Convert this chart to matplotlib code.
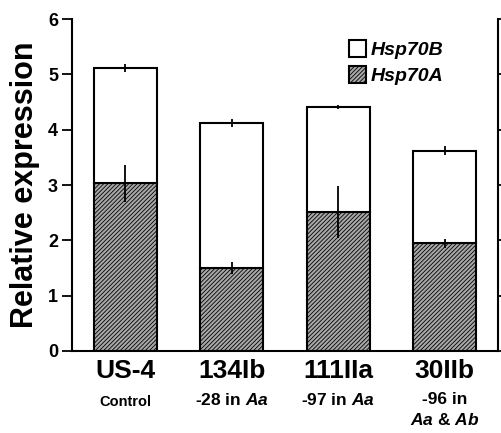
import matplotlib
matplotlib.use("Agg")
import matplotlib.pyplot as plt
import numpy as np

plt.rcParams['font.family'] = ['Liberation Sans', 'DejaVu Sans']
plt.rcParams['font.weight'] = 'bold'
plt.rcParams['mathtext.fontset'] = 'custom'
plt.rcParams['mathtext.it'] = 'Liberation Sans:italic:bold'
plt.rcParams['mathtext.rm'] = 'Liberation Sans:bold'
plt.rcParams['hatch.linewidth'] = 0.6
plt.rcParams['hatch.color'] = '#3a3a3a'

# data
strains = ["US-4", "134Ib", "111IIa", "30IIb"]
notes = ["Control", r"-28 in $\mathit{Aa}$", r"-97 in $\mathit{Aa}$",
         "-96 in\n" + r"$\mathit{Aa}$ & $\mathit{Ab}$"]
hsp70a = [3.03, 1.50, 2.52, 1.95]
hsp70a_err = [0.33, 0.10, 0.47, 0.08]
total = [5.12, 4.12, 4.41, 3.62]
total_err = [0.07, 0.08, 0.04, 0.08]
hsp70b = [t - a for t, a in zip(total, hsp70a)]

fig = plt.figure(figsize=(5.01, 4.33), dpi=100)
ax = fig.add_axes([0.1437, 0.1894, 0.994 - 0.1437, 0.956 - 0.1894])

x = np.arange(len(strains))
w = 0.59
ax.bar(x, hsp70a, w, color='#a8a8a8', edgecolor='black', hatch='////////',
       linewidth=1.5, label='Hsp70A')
ax.bar(x, hsp70b, w, bottom=hsp70a, color='white', edgecolor='black',
       linewidth=1.5, label='Hsp70B')
ax.errorbar(x, hsp70a, yerr=hsp70a_err, fmt='none', ecolor='black',
            elinewidth=1.3, capsize=0)
ax.errorbar(x, total, yerr=total_err, fmt='none', ecolor='black',
            elinewidth=1.3, capsize=0)

ax.set_xlim(-0.5, 3.5)
ax.set_ylim(0, 6)
ax.set_yticks(range(7))
ax.tick_params(axis='y', labelsize=13, width=1.3, length=7, pad=3,
               direction='out')
for lab in ax.get_yticklabels():
    lab.set_fontweight('bold')
ax.set_xticks([])
ax.spines['top'].set_visible(False)
for s in ['left', 'bottom', 'right']:
    ax.spines[s].set_linewidth(1.5)
ax.tick_params(axis='y', right=True)
ax.set_ylabel('Relative expression', fontsize=22, fontweight='bold', labelpad=6)

for xi, name, note in zip(x, strains, notes):
    ax.text(xi, -0.36, name, ha='center', va='center', fontsize=19,
            fontweight='bold', clip_on=False)
    size = 10.5 if name == "US-4" else 12.5
    ax.text(xi, -0.8 if name == "US-4" else -0.75, note, ha='center',
            va='top', fontsize=size, fontweight='bold', linespacing=1.35,
            clip_on=False)

h, l = ax.get_legend_handles_labels()
leg = ax.legend(h[::-1], l[::-1], loc='upper left', bbox_to_anchor=(0.61, 0.99),
                frameon=False, handlelength=0.85, handleheight=0.95,
                handletextpad=0.25, labelspacing=0.35,
                prop={'style': 'italic', 'weight': 'bold', 'size': 14})

fig.savefig('out.png', dpi=100)
